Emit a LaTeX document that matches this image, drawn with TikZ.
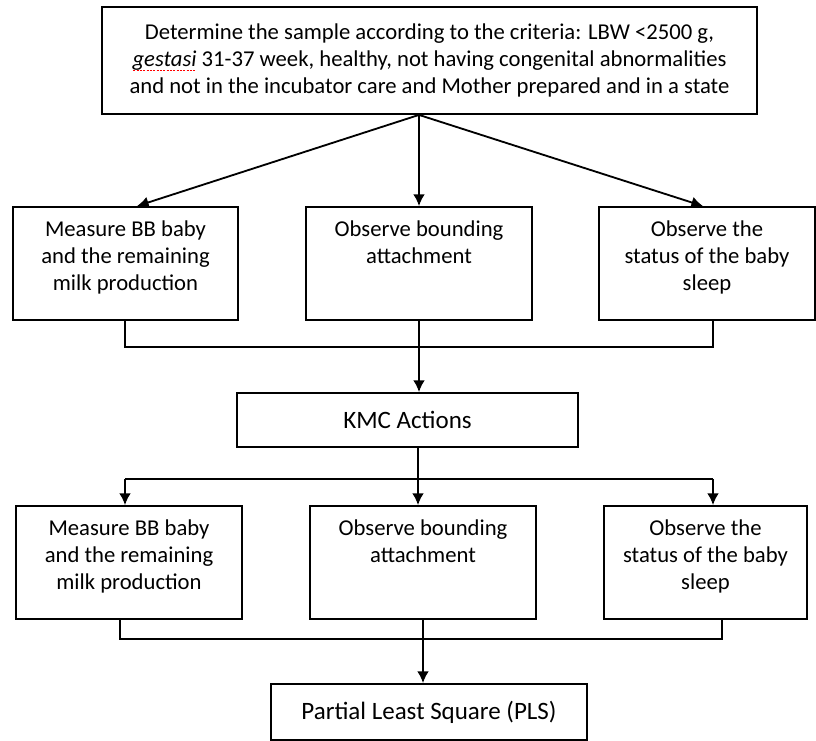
\documentclass[tikz,border=0pt]{standalone}
\usepackage{fontspec}
\setmainfont{Carlito}
\usepackage{tikz}
\usetikzlibrary{arrows.meta}

% red spell-check mark under a word
\newsavebox{\spellbox}
\newcommand{\spellmark}[1]{\sbox{\spellbox}{#1}\rlap{\raisebox{-2.8pt}{\hbox to \wd\spellbox{\color{red}\leaders\hbox to 2pt{\hss\rule{1.2pt}{0.7pt}\hss}\hfill}}}\usebox{\spellbox}}

\begin{document}
\begin{tikzpicture}[x=0.6pt,y=-0.6pt,line width=1.1pt,>={Latex[length=7pt,width=7pt]}]
\newcommand{\cell}[3]{\parbox[t][#2pt][t]{#1pt}{\centering\vspace*{8.3pt}#3}}
\newcommand{\bigtext}{\fontsize{15}{16}\selectfont}
\useasboundingbox (0,0) rectangle (816,741);
\begin{scope}[shape=rectangle,inner sep=0pt,font=\fontsize{13.6}{16.1}\selectfont]
\tikzstyle{every node}=[draw]
\node[align=center,minimum width=393pt,minimum height=64.2pt] (top) at (429.5,60.5) {Determine the sample according to the criteria: LBW <2500 g,\\\spellmark{\textit{gestasi}} 31-37 week, healthy, not having congenital abnormalities\\and not in the incubator care and Mother prepared and in a state};
\node (M_1) at (125.5,263.5) {\cell{135}{67.8}{Measure BB baby\\and the remaining\\milk production}};
\node (O_1) at (419,263.5) {\cell{135.6}{67.8}{Observe bounding\\attachment}};
\node (S_1) at (707,263.5) {\cell{129.6}{67.8}{Observe the\\status of the baby\\sleep}};
\node[font=\bigtext,minimum width=204.6pt,minimum height=32.4pt] (KMC) at (407.5,420) {KMC Actions};
\node (M_2) at (129,562.5) {\cell{135.6}{67.8}{Measure BB baby\\and the remaining\\milk production}};
\node (O_2) at (423,562.5) {\cell{135.6}{67.8}{Observe bounding\\attachment}};
\node (S_2) at (705.5,562.5) {\cell{121.8}{67.8}{Observe the\\status of the baby\\sleep}};
\node[font=\bigtext,minimum width=189.6pt,minimum height=33.6pt] (PLS) at (429,712) {Partial Least Square (PLS)};
\coordinate (L_1) at (125,347);
\coordinate (R_1) at (713,347);
\coordinate (L_3) at (125,479);
\coordinate (J_3) at (418,479);
\coordinate (R_3) at (713,479);
\coordinate (L_2) at (120,639);
\coordinate (R_2) at (722,639);
\draw [->] (top.south -| O_1) -- ([xshift=6.9pt]M_1.north);
\draw [->] (top.south -| O_1) -- (O_1);
\draw [->] (top.south -| O_1) -- ([xshift=-2.4pt]S_1.north);
\draw (M_1.south -| L_1) -- (L_1) -- (R_1) -- (S_1.south -| R_1);
\draw [->] (O_1) -- (O_1 |- KMC.north);
\draw (KMC.south -| J_3) -- (J_3);
\draw (L_3) -- (R_3);
\draw [->] (L_3) -- (M_2.north -| L_3);
\draw [->] (J_3) -- (O_2.north -| J_3);
\draw [->] (R_3) -- (S_2.north -| R_3);
\draw (M_2.south -| L_2) -- (L_2) -- (R_2) -- (S_2.south -| R_2);
\draw [->] (O_2) -- (O_2 |- PLS.north);
\end{scope}
\end{tikzpicture}
\end{document}
